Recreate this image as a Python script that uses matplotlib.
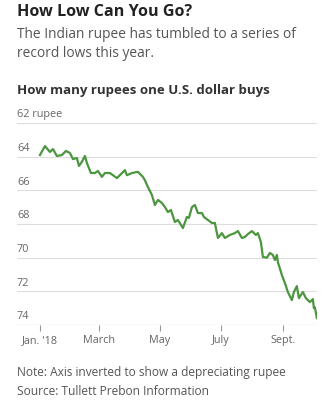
import matplotlib
matplotlib.use("Agg")
import matplotlib.pyplot as plt
import matplotlib.transforms as mtransforms
import pandas as pd

# days since Jan 1, 2018 and rupees per U.S. dollar
days = [0, 5, 10, 13, 17, 22, 26, 30, 33, 37, 39, 42, 45, 47, 51, 55, 58, 62,
        65, 70, 77, 85, 87, 92, 98, 103, 105, 108, 112, 115, 118, 122, 125,
        128, 131, 135, 138, 143, 147, 149, 152, 155, 158, 162, 164, 168, 172,
        175, 178, 182, 185, 190, 195, 198, 202, 205, 208, 212, 216, 218, 221,
        223, 227, 230, 233, 235, 237, 238, 242, 245, 248, 252, 254, 257, 259,
        263, 266, 270, 273, 274, 275, 277]
rupees = [63.90, 63.37, 63.72, 63.55, 63.96, 63.90, 63.66, 63.78, 64.14, 64.08,
          64.55, 64.30, 63.96, 64.38, 64.97, 64.97, 64.85, 65.20, 64.97, 64.97,
          65.27, 64.80, 65.10, 64.97, 64.90, 65.20, 65.40, 65.80, 66.28, 66.87,
          66.57, 66.75, 66.99, 67.29, 67.17, 67.88, 67.76, 68.24, 67.58, 67.64,
          67.00, 66.87, 67.35, 67.35, 67.58, 67.76, 67.94, 67.94, 68.83, 68.54,
          68.83, 68.65, 68.54, 68.42, 68.83, 68.77, 68.60, 68.42, 68.65, 68.54,
          69.07, 69.96, 70.00, 69.72, 69.84, 70.14, 69.84, 70.26, 71.03, 71.50,
          72.04, 72.52, 72.04, 71.69, 72.40, 72.04, 72.40, 72.64, 72.46, 72.99,
          72.95, 73.59]
y_ticks = [62, 64, 66, 68, 70, 72, 74]
y_labels = ["62 rupee", "64", "66", "68", "70", "72", "74"]
x_ticks = ["2018-01-01", "2018-03-01", "2018-05-01", "2018-07-01", "2018-09-01"]
x_labels = ["Jan. '18", "March", "May", "July", "Sept."]

dates = pd.Timestamp("2018-01-01") + pd.to_timedelta(days, unit="D")

plt.rcParams["font.family"] = ["Open Sans", "DejaVu Sans"]

fig = plt.figure(figsize=(3.26, 4.04), dpi=100)
ax = fig.add_axes([0.052, 0.1955, 0.92, 0.5])

ax.plot(dates, rupees, color="#4b963e", linewidth=1.6, solid_joinstyle="round")

ax.set_ylim(74, 62)
ax.set_xlim(pd.Timestamp("2017-12-09"), pd.Timestamp("2018-10-05"))

for s in ax.spines.values():
    s.set_visible(False)
for v in y_ticks[:-1]:
    ax.axhline(v, color="#dddddd", linewidth=0.8, zorder=0)
ax.axhline(74, color="#cccccc", linewidth=0.9, zorder=0)

trans = mtransforms.blended_transform_factory(ax.transAxes, ax.transData)
for v, lab in zip(y_ticks, y_labels):
    ax.text(0.0, v - 0.15, lab, transform=trans, ha="left", va="bottom",
            fontsize=7.8, color="#666666")

ax.set_yticks([])
ax.set_xticks(pd.to_datetime(x_ticks))
ax.set_xticklabels(x_labels, fontsize=7.8, color="#666666")
ax.tick_params(axis="x", length=4, width=0.8, color="#999999", pad=3)

fig.text(0.052, 0.989, "How Low Can You Go?", fontsize=11.6, fontweight="bold",
         color="#222222", va="top")
fig.text(0.052, 0.934, "The Indian rupee has tumbled to a series of\nrecord lows this year.",
         fontsize=9.9, color="#555555", va="top", linespacing=1.42)
fig.text(0.052, 0.792, "How many rupees one U.S. dollar buys", fontsize=9.5,
         fontweight="bold", color="#333333", va="top")
fig.text(0.052, 0.094, "Note: Axis inverted to show a depreciating rupee\nSource: Tullett Prebon Information",
         fontsize=8.6, color="#555555", va="top", linespacing=1.55)

fig.savefig("out.png", dpi=100, facecolor="white")
